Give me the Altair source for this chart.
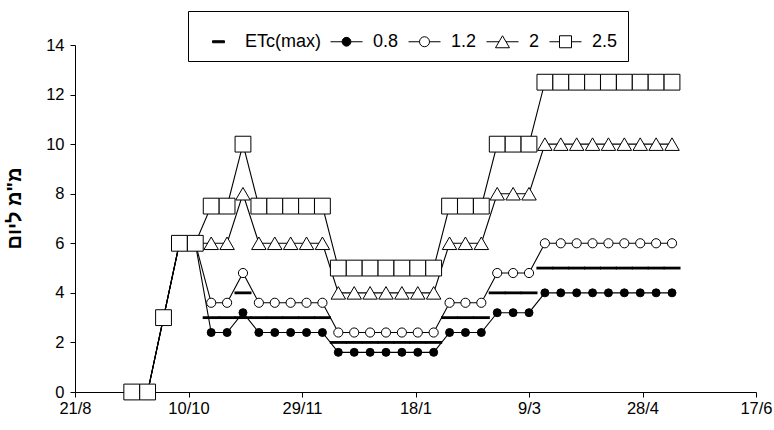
import altair as alt
import pandas as pd

# ---- data ----
dates = [
    "2002-09-15", "2002-09-22", "2002-09-29", "2002-10-06", "2002-10-13",
    "2002-10-20", "2002-10-27", "2002-11-03", "2002-11-10", "2002-11-17",
    "2002-11-24", "2002-12-01", "2002-12-08", "2002-12-15", "2002-12-22",
    "2002-12-29", "2003-01-05", "2003-01-12", "2003-01-19", "2003-01-26",
    "2003-02-02", "2003-02-09", "2003-02-16", "2003-02-23", "2003-03-02",
    "2003-03-09", "2003-03-16", "2003-03-23", "2003-03-30", "2003-04-06",
    "2003-04-13", "2003-04-20", "2003-04-27", "2003-05-04", "2003-05-11",
]

series_names = ["0.8", "1.2", "2", "2.5"]

s08 = [0, 0, 3, 6, 6,
       2.4, 2.4, 3.2, 2.4, 2.4, 2.4, 2.4, 2.4,
       1.6, 1.6, 1.6, 1.6, 1.6, 1.6, 1.6,
       2.4, 2.4, 2.4,
       3.2, 3.2, 3.2,
       4, 4, 4, 4, 4, 4, 4, 4, 4]
s12 = [0, 0, 3, 6, 6,
       3.6, 3.6, 4.8, 3.6, 3.6, 3.6, 3.6, 3.6,
       2.4, 2.4, 2.4, 2.4, 2.4, 2.4, 2.4,
       3.6, 3.6, 3.6,
       4.8, 4.8, 4.8,
       6, 6, 6, 6, 6, 6, 6, 6, 6]
s2 = [0, 0, 3, 6, 6,
      6, 6, 8, 6, 6, 6, 6, 6,
      4, 4, 4, 4, 4, 4, 4,
      6, 6, 6,
      8, 8, 8,
      10, 10, 10, 10, 10, 10, 10, 10, 10]
s25 = [0, 0, 3, 6, 6,
       7.5, 7.5, 10, 7.5, 7.5, 7.5, 7.5, 7.5,
       5, 5, 5, 5, 5, 5, 5,
       7.5, 7.5, 7.5,
       10, 10, 10,
       12.5, 12.5, 12.5, 12.5, 12.5, 12.5, 12.5, 12.5, 12.5]

etc_values = [None, None, None, None, None,
              3, 3, 4, 3, 3, 3, 3, 3,
              2, 2, 2, 2, 2, 2, 2,
              3, 3, 3,
              4, 4, 4,
              5, 5, 5, 5, 5, 5, 5, 5, 5]
etc_extra_dates = ["2002-11-03"]
etc_extra_values = [3]

legend_entries = ["ETc(max)", "0.8", "1.2", "2", "2.5"]
x_tick_dates = [(2002, 8, 21), (2002, 10, 10), (2002, 11, 29), (2003, 1, 18),
                (2003, 3, 9), (2003, 4, 28), (2003, 6, 17)]
y_ticks = [0, 2, 4, 6, 8, 10, 12, 14]
y_title = 'מ"מ ליום'

# marker style per series
marker_shape = {"0.8": "circle", "1.2": "circle", "2": "triangle-up", "2.5": "square"}
marker_fill = {"0.8": "black", "1.2": "white", "2": "white", "2.5": "white"}
marker_size = {"0.8": 64, "1.2": 84, "2": 210, "2.5": 250}

# ---- tables ----
rows = []
for name, vals in zip(series_names, [s08, s12, s2, s25]):
    for d, v in zip(dates, vals):
        rows.append({"date": d, "value": v, "series": name})
df = pd.DataFrame(rows)

etc_rows = [{"date": d, "value": v} for d, v in zip(dates, etc_values) if v is not None]
etc_rows += [{"date": d, "value": v} for d, v in zip(etc_extra_dates, etc_extra_values)]
etc_df = pd.DataFrame(etc_rows)

leg_df = pd.DataFrame({"entry": legend_entries, "date": dates[:5], "value": [0] * 5})

def dt(t):
    return alt.DateTime(year=t[0], month=t[1], date=t[2], utc=True)

x_enc = alt.X(
    "date:T",
    scale=alt.Scale(type="utc", domain=[dt(x_tick_dates[0]), dt(x_tick_dates[-1])]),
    axis=alt.Axis(values=[dt(t) for t in x_tick_dates], format="%-d/%-m",
                  title=None, grid=False, labelFlush=False, labelPadding=3),
)
y_enc = alt.Y(
    "value:Q",
    scale=alt.Scale(domain=[0, 14], nice=False, zero=True),
    axis=alt.Axis(values=y_ticks, title=y_title, grid=False, labelPadding=6,
                  titleFontWeight="bold", titleFontSize=20,
                  titleX=-55, titleY=163, titleAngle=-90,
                  titleAlign="center", titleBaseline="alphabetic"),
)

etc_layer = alt.Chart(etc_df).mark_tick(
    orient="horizontal", size=17, thickness=2.8, color="black", opacity=1
).encode(x=x_enc, y=y_enc)

lines = alt.Chart(df).mark_line(color="black", strokeWidth=1.1).encode(
    x=x_enc, y=y_enc, detail="series:N"
)

point_layers = []
for name in series_names:
    point_layers.append(
        alt.Chart(df).transform_filter(alt.datum.series == name).mark_point(
            filled=True, shape=marker_shape[name], size=marker_size[name],
            fill=marker_fill[name], stroke="black", strokeWidth=1, opacity=1,
        ).encode(x=x_enc, y=y_enc)
    )

paths = [
    "M-0.3,-0.05H0.3V0.05H-0.3Z",
    "M-0.8,0H-0.22M0.22,0H0.8M-0.22,0A0.22,0.22,0,1,1,0.22,0A0.22,0.22,0,1,1,-0.22,0Z",
    "M-0.8,0H-0.25M0.25,0H0.8M-0.25,0A0.25,0.25,0,1,1,0.25,0A0.25,0.25,0,1,1,-0.25,0Z",
    "M-0.8,0H-0.175M0.175,0H0.8M0,-0.3L0.35,0.3H-0.35Z",
    "M-0.8,0H-0.3M0.3,0H0.8M-0.3,-0.3H0.3V0.3H-0.3Z",
]
leg_kwargs = dict(
    title=None, orient="none", legendX=113, legendY=-34, direction="horizontal",
    symbolSize=1600, symbolStrokeColor="black", symbolStrokeWidth=1, symbolOpacity=1,
    labelFontSize=18, labelFont="Liberation Sans", labelColor="black",
    labelOffset=6, columnPadding=5, padding=10,
    strokeColor="black", fillColor="white", cornerRadius=0,
)
legend_layer = alt.Chart(leg_df).transform_filter("false").mark_point(
    filled=True, strokeWidth=1, opacity=1
).encode(
    x=x_enc, y=y_enc,
    shape=alt.Shape("entry:N", scale=alt.Scale(domain=legend_entries, range=paths),
                    legend=alt.Legend(**leg_kwargs)),
    fill=alt.Fill("entry:N", scale=alt.Scale(domain=legend_entries,
                                             range=["black", "black", "white", "white", "white"]),
                  legend=alt.Legend(**leg_kwargs)),
    stroke=alt.Stroke("entry:N", scale=alt.Scale(domain=legend_entries,
                                                 range=["black"] * 5),
                      legend=alt.Legend(**leg_kwargs)),
)

chart = alt.layer(etc_layer, lines, *point_layers, legend_layer).properties(
    width=681, height=347,
    background="white",
    autosize=alt.AutoSizeParams(type="none"),
    padding={"left": 75, "top": 45, "right": 18, "bottom": 38},
).configure_view(stroke=None).configure_axis(
    labelFont="Liberation Sans", titleFont="Liberation Sans",
    labelFontSize=16.5, labelColor="black", titleColor="black",
    domainColor="black", tickColor="black", tickSize=5,
    domainWidth=1, tickWidth=1,
)

chart.save("out.html", embed_options={"renderer": "svg", "actions": False})
